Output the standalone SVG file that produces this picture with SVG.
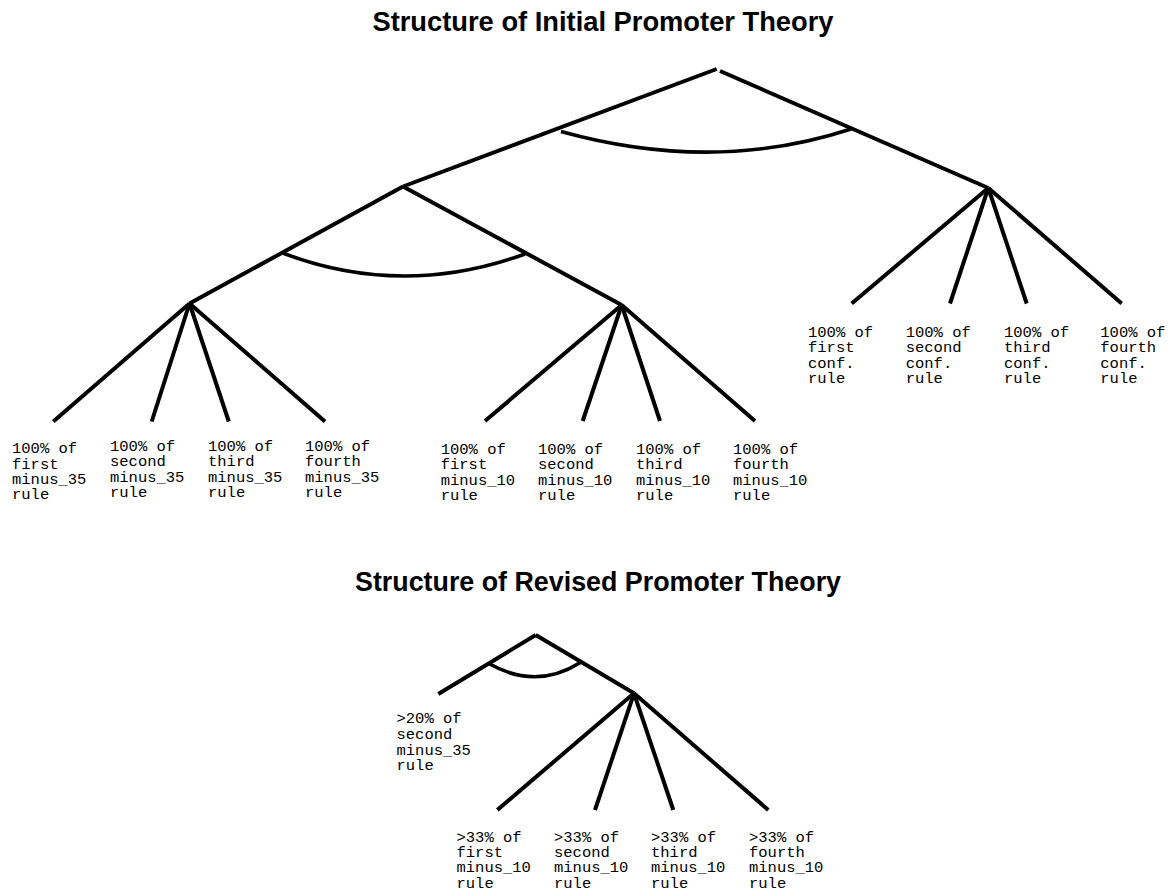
<svg xmlns="http://www.w3.org/2000/svg" width="1172" height="891" viewBox="0 0 1172 891">
<style>
.title{font-family:"Liberation Sans",Arial,sans-serif;font-weight:bold;font-size:27.3px;fill:#000;text-anchor:middle}
.lbl{font-family:"Liberation Mono","Courier New",monospace;font-size:15.5px;fill:#000}
.edge{stroke:#000;stroke-width:4;fill:none;stroke-linecap:butt}
.arc{stroke:#000;stroke-width:3.6;fill:none}
</style>
<rect width="1172" height="891" fill="#fff"/>
<g id="title-initial"><text class="title" x="603" y="31">Structure of Initial Promoter Theory</text></g>
<g id="title-revised"><text class="title" x="598" y="591" textLength="486" lengthAdjust="spacingAndGlyphs">Structure of Revised Promoter Theory</text></g>
<g id="connectors">
  <line class="edge" x1="716.7" y1="69" x2="403" y2="186.5"/>
  <line class="edge" x1="720" y1="71" x2="988.3" y2="188"/>
  <path class="arc" d="M561,131.5 Q714,174 851,129"/>
  <line class="edge" x1="403" y1="186.5" x2="189.5" y2="303.5"/>
  <line class="edge" x1="403" y1="186.5" x2="621.7" y2="305"/>
  <path class="arc" d="M283.3,253.3 Q402.5,298.3 525,254"/>
  <line class="edge" x1="189.5" y1="303.5" x2="53.3" y2="421.5"/>
  <line class="edge" x1="189.5" y1="303.5" x2="151.7" y2="421.5"/>
  <line class="edge" x1="189.5" y1="303.5" x2="228.8" y2="421.5"/>
  <line class="edge" x1="189.5" y1="303.5" x2="325" y2="421.5"/>
  <line class="edge" x1="621.7" y1="305" x2="485" y2="421"/>
  <line class="edge" x1="621.7" y1="305" x2="582.7" y2="421"/>
  <line class="edge" x1="621.7" y1="305" x2="660" y2="421"/>
  <line class="edge" x1="621.7" y1="305" x2="755" y2="421"/>
  <line class="edge" x1="988.3" y1="188" x2="851.7" y2="303.5"/>
  <line class="edge" x1="988.3" y1="188" x2="950" y2="303.5"/>
  <line class="edge" x1="988.3" y1="188" x2="1026.7" y2="303.5"/>
  <line class="edge" x1="988.3" y1="188" x2="1121.7" y2="303.5"/>
  <line class="edge" x1="535.7" y1="635" x2="438.3" y2="694"/>
  <line class="edge" x1="535.7" y1="635" x2="634" y2="693.3"/>
  <path class="arc" d="M488.3,663.3 Q535.8,690.4 580,662.7"/>
  <line class="edge" x1="634" y1="693.3" x2="497.3" y2="810"/>
  <line class="edge" x1="634" y1="693.3" x2="595" y2="810"/>
  <line class="edge" x1="634" y1="693.3" x2="673.3" y2="810"/>
  <line class="edge" x1="634" y1="693.3" x2="768.3" y2="810"/>
</g>
<g id="leaf-first-minus35"><text class="lbl" x="12" y="453.3">100% of<tspan x="12" dy="15.3">first</tspan><tspan x="12" dy="15.3">minus_35</tspan><tspan x="12" dy="15.3">rule</tspan></text></g>
<g id="leaf-second-minus35"><text class="lbl" x="110" y="451">100% of<tspan x="110" dy="15.3">second</tspan><tspan x="110" dy="15.3">minus_35</tspan><tspan x="110" dy="15.3">rule</tspan></text></g>
<g id="leaf-third-minus35"><text class="lbl" x="208" y="451">100% of<tspan x="208" dy="15.3">third</tspan><tspan x="208" dy="15.3">minus_35</tspan><tspan x="208" dy="15.3">rule</tspan></text></g>
<g id="leaf-fourth-minus35"><text class="lbl" x="305" y="451">100% of<tspan x="305" dy="15.3">fourth</tspan><tspan x="305" dy="15.3">minus_35</tspan><tspan x="305" dy="15.3">rule</tspan></text></g>
<g id="leaf-first-minus10"><text class="lbl" x="440.7" y="454">100% of<tspan x="440.7" dy="15.3">first</tspan><tspan x="440.7" dy="15.3">minus_10</tspan><tspan x="440.7" dy="15.3">rule</tspan></text></g>
<g id="leaf-second-minus10"><text class="lbl" x="538" y="454">100% of<tspan x="538" dy="15.3">second</tspan><tspan x="538" dy="15.3">minus_10</tspan><tspan x="538" dy="15.3">rule</tspan></text></g>
<g id="leaf-third-minus10"><text class="lbl" x="636" y="454">100% of<tspan x="636" dy="15.3">third</tspan><tspan x="636" dy="15.3">minus_10</tspan><tspan x="636" dy="15.3">rule</tspan></text></g>
<g id="leaf-fourth-minus10"><text class="lbl" x="733" y="454">100% of<tspan x="733" dy="15.3">fourth</tspan><tspan x="733" dy="15.3">minus_10</tspan><tspan x="733" dy="15.3">rule</tspan></text></g>
<g id="leaf-first-conf"><text class="lbl" x="808" y="337">100% of<tspan x="808" dy="15.4">first</tspan><tspan x="808" dy="15.4">conf.</tspan><tspan x="808" dy="15.4">rule</tspan></text></g>
<g id="leaf-second-conf"><text class="lbl" x="905.7" y="337">100% of<tspan x="905.7" dy="15.4">second</tspan><tspan x="905.7" dy="15.4">conf.</tspan><tspan x="905.7" dy="15.4">rule</tspan></text></g>
<g id="leaf-third-conf"><text class="lbl" x="1004" y="337">100% of<tspan x="1004" dy="15.4">third</tspan><tspan x="1004" dy="15.4">conf.</tspan><tspan x="1004" dy="15.4">rule</tspan></text></g>
<g id="leaf-fourth-conf"><text class="lbl" x="1100.3" y="337">100% of<tspan x="1100.3" dy="15.4">fourth</tspan><tspan x="1100.3" dy="15.4">conf.</tspan><tspan x="1100.3" dy="15.4">rule</tspan></text></g>
<g id="leaf-revised-second-minus35"><text class="lbl" x="396.5" y="723.3">&gt;20% of<tspan x="396.5" dy="15.7">second</tspan><tspan x="396.5" dy="15.7">minus_35</tspan><tspan x="396.5" dy="15.7">rule</tspan></text></g>
<g id="leaf-revised-first-minus10"><text class="lbl" x="456.5" y="841.5">&gt;33% of<tspan x="456.5" dy="15.4">first</tspan><tspan x="456.5" dy="15.4">minus_10</tspan><tspan x="456.5" dy="15.4">rule</tspan></text></g>
<g id="leaf-revised-second-minus10"><text class="lbl" x="554" y="841.5">&gt;33% of<tspan x="554" dy="15.4">second</tspan><tspan x="554" dy="15.4">minus_10</tspan><tspan x="554" dy="15.4">rule</tspan></text></g>
<g id="leaf-revised-third-minus10"><text class="lbl" x="651" y="841.5">&gt;33% of<tspan x="651" dy="15.4">third</tspan><tspan x="651" dy="15.4">minus_10</tspan><tspan x="651" dy="15.4">rule</tspan></text></g>
<g id="leaf-revised-fourth-minus10"><text class="lbl" x="749" y="841.5">&gt;33% of<tspan x="749" dy="15.4">fourth</tspan><tspan x="749" dy="15.4">minus_10</tspan><tspan x="749" dy="15.4">rule</tspan></text></g>
</svg>
